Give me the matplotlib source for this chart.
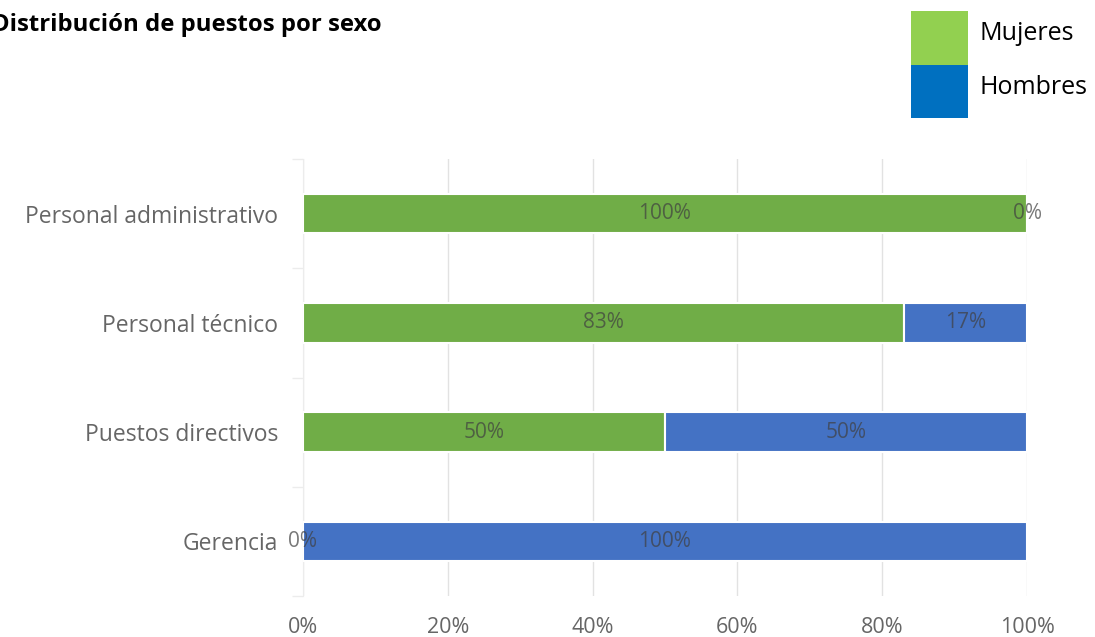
import matplotlib
matplotlib.use('Agg')
import matplotlib.pyplot as plt
from matplotlib.patches import Rectangle
import numpy as np

plt.rcParams['font.family'] = ['Open Sans', 'DejaVu Sans']

# Share of each job group by sex (percent)
categories = ['Gerencia', 'Puestos directivos', 'Personal técnico', 'Personal administrativo']
mujeres = [0, 50, 83, 100]
hombres = [100, 50, 17, 0]
x_ticks = [0, 20, 40, 60, 80, 100]
x_tick_labels = ['0%', '20%', '40%', '60%', '80%', '100%']

W, H = 1095, 637
dpi = 100
fig = plt.figure(figsize=(W / dpi, H / dpi), dpi=dpi)
fig.patch.set_facecolor('white')

ax = fig.add_axes([303 / W, 1 - 596 / H, (1027 - 303) / W, (596 - 159) / H])

bar_green = '#70AD47'
bar_blue = '#4472C4'

y = np.arange(len(categories))
bh = 0.36
ax.barh(y, mujeres, height=bh, color=bar_green, edgecolor='white', linewidth=1.5, zorder=3)
ax.barh(y, hombres, left=mujeres, height=bh, color=bar_blue, edgecolor='white', linewidth=1.5, zorder=3)

# value labels centred on each segment
for i in range(len(categories)):
    m, h = mujeres[i], hombres[i]
    ax.text(m / 2, y[i], f'{m}%', ha='center', va='center', fontsize=15,
            color='#404040', alpha=0.7, zorder=4)
    ax.text(m + h / 2, y[i], f'{h}%', ha='center', va='center', fontsize=15,
            color='#404040', alpha=0.7, zorder=4)

ax.set_xlim(0, 100)
ax.set_ylim(-0.5, len(categories) - 0.5)
ax.set_xticks(x_ticks, labels=x_tick_labels)
ax.set_yticks(y, labels=categories)
ax.tick_params(axis='x', length=0, pad=15, labelsize=15.5, labelcolor='#666666')
ax.tick_params(axis='y', length=0, pad=18, labelsize=16.5, labelcolor='#666666')

ax.set_yticks(np.arange(-0.5, len(categories), 1.0), minor=True)
ax.tick_params(axis='y', which='minor', length=8, color='#ececec', width=1)

ax.grid(axis='x', color='#e2e2e2', linewidth=1, zorder=0)
for s in ['top', 'right', 'bottom']:
    ax.spines[s].set_visible(False)
ax.spines['left'].set_color('#ececec')

# title, its first letter runs past the left edge
fig.text(-8 / W, 1 - 25 / H, 'Distribución de puestos por sexo', fontsize=17.2,
         fontweight='bold', ha='left', va='center', color='black')

# legend block in the top-right corner
leg = [('Mujeres', '#92D050'), ('Hombres', '#0070C0')]
top = 11
for k, (name, col) in enumerate(leg):
    y0 = top + k * 53.5
    fig.add_artist(Rectangle((911 / W, 1 - (y0 + 53.5) / H), 57 / W, 53.5 / H,
                             transform=fig.transFigure, facecolor=col, edgecolor='none'))
    fig.text(980 / W, 1 - (y0 + 23) / H, name, fontsize=18, ha='left', va='center',
             color='black')

fig.savefig('out.png', dpi=dpi)
